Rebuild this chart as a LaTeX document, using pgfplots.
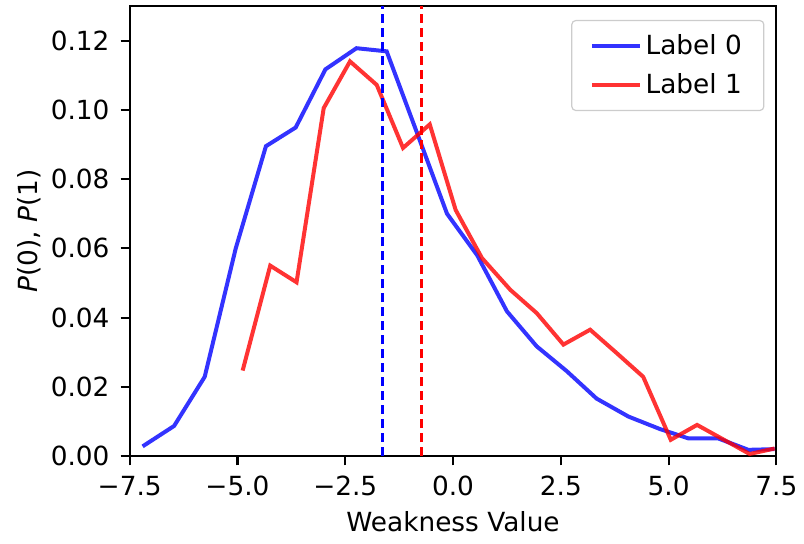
\documentclass[border=0pt]{standalone}
\usepackage{fontspec}
\setmainfont{DejaVu Sans}
\usepackage{pgfplots}
\pgfplotsset{compat=1.18}

\newcommand{\fs}{\fontsize{13.2pt}{15.8pt}\selectfont}

\begin{document}
\begin{tikzpicture}
\begin{axis}[
    scale only axis,
    width=324pt,
    height=225.5pt,
    xmin=-7.5, xmax=7.5,
    ymin=0, ymax=0.13,
    xtick={-7.5,-5,-2.5,0,2.5,5,7.5},
    xticklabels={−7.5,−5.0,−2.5,0.0,2.5,5.0,7.5},
    ytick={0,0.02,0.04,0.06,0.08,0.1,0.12},
    scaled y ticks=false,
    ticklabel style={font=\fs},
    xticklabel style={yshift=-2pt},
    yticklabel style={xshift=-2pt},
    y tick label style={/pgf/number format/.cd, fixed, fixed zerofill, precision=2, assume math mode=true},
    label style={font=\fs},
    ylabel style={yshift=-2pt},
    xlabel style={yshift=-1pt},
    tick align=outside,
    tick pos=left,
    major tick length=4.6pt,
    every tick/.style={black, line width=1.05pt},
    axis line style={line width=1.05pt},
    xlabel={Weakness Value},
    ylabel={{\itshape P}(0), {\itshape P}(1)},
    legend cell align=left,
    legend image code/.code={\draw[#1] (0pt,0pt) -- (24pt,0pt);},
    legend style={at={(1,1)}, anchor=north east, xshift=-6pt, yshift=-7pt,
      draw=black!20, line width=0.6pt, rounded corners=2pt,
      fill=white, fill opacity=0.8, text opacity=1, font=\fs,
      inner xsep=9pt, inner ysep=5pt, row sep=4pt,
      /tikz/every even column/.append style={column sep=8pt}},
    after end axis/.code={\path (rel axis cs:1,1) ++(2pt,3pt);},
]
\addplot[blue, draw opacity=0.8, line width=2pt] coordinates {
  (-7.20,0.0028) (-6.47,0.0087) (-5.76,0.0229) (-5.04,0.0600)
  (-4.34,0.0895) (-3.65,0.0949) (-2.96,0.1117) (-2.24,0.1178)
  (-1.54,0.1169) (-0.84,0.0935) (-0.14,0.0700) (0.56,0.0580)
  (1.25,0.0418) (1.94,0.0317) (2.64,0.0245) (3.33,0.0166)
  (4.07,0.0114) (4.80,0.0078) (5.46,0.0051) (6.15,0.0051)
  (6.85,0.0018) (7.46,0.0020)
};
\addlegendentry{Label 0}
\addplot[red, draw opacity=0.8, line width=2pt] coordinates {
  (-4.88,0.0247) (-4.24,0.0550) (-3.63,0.0502) (-3.00,0.1005)
  (-2.39,0.1140) (-1.77,0.1072) (-1.16,0.0890) (-0.54,0.0958)
  (0.06,0.0711) (0.67,0.0572) (1.33,0.0480) (1.94,0.0413)
  (2.56,0.0322) (3.18,0.0365) (3.80,0.0297) (4.41,0.0229)
  (5.05,0.0047) (5.66,0.0090) (6.27,0.0048) (6.88,0.0006)
  (7.46,0.0022)
};
\addlegendentry{Label 1}
% mean markers
\addplot[blue, line width=1.4pt, dash pattern=on 4.6pt off 2.4pt, forget plot] coordinates {(-1.64,0) (-1.64,0.13)};
\addplot[red, line width=1.4pt, dash pattern=on 4.6pt off 2.4pt, forget plot] coordinates {(-0.74,0) (-0.74,0.13)};
\end{axis}
% page margin, as in the original figure
\path (current bounding box.south west) ++(-5.5pt,-2.5pt);
\end{tikzpicture}
\end{document}
